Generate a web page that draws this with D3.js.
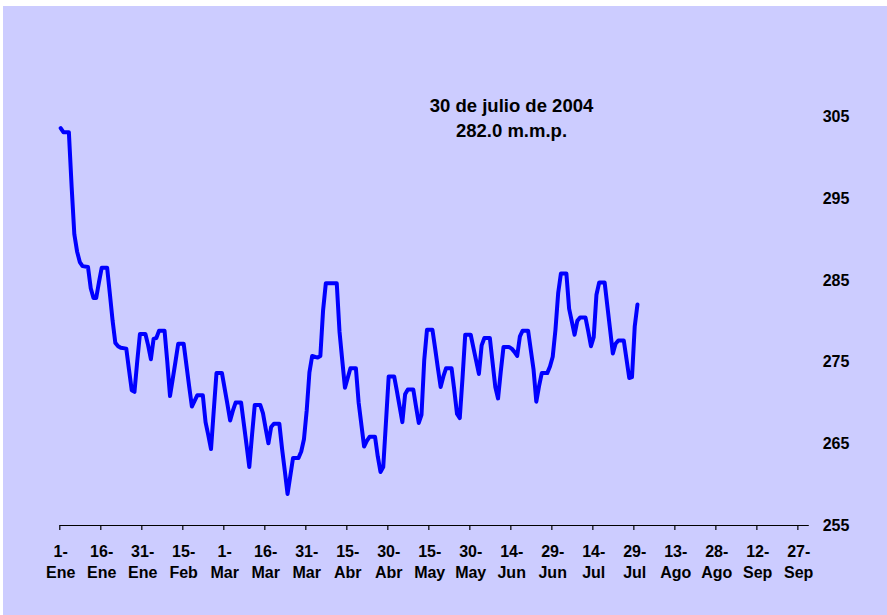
<!DOCTYPE html>
<html><head><meta charset="utf-8">
<script src="https://cdn.jsdelivr.net/npm/d3@7"></script>
<style>
html,body{margin:0;padding:0;background:#ffffff;}
svg{display:block;}
text{font-family:Arial,"Liberation Sans",sans-serif;font-weight:bold;fill:#000;}
</style></head><body>
<svg id="chart" width="887" height="615"></svg>
<script>
// ---- data ----
const startDate = "2004-01-01";
const endDate = "2004-10-01";
// day offset from 1-Ene-2004
const dayOffsets = [0,1,3,4,5,6,7,8,10,11,12,13,14,15,17,18,19,20,21,22,24,25,26,27,28,29,31,32,33,34,35,36,38,39,40,41,42,43,45,46,47,48,49,50,52,53,54,55,56,57,59,60,61,62,63,64,66,67,68,69,70,71,73,74,75,76,77,78,80,81,82,83,84,85,87,88,89,90,91,92,94,95,96,97,101,102,103,104,105,106,108,109,110,111,112,113,115,116,117,118,119,120,122,123,124,125,126,127,129,130,131,132,133,134,136,137,138,139,140,141,143,144,145,146,147,148,150,151,152,153,154,155,157,158,159,160,161,162,164,165,166,167,168,169,171,172,173,174,175,176,178,179,180,181,182,183,185,186,187,188,189,190,192,193,194,195,196,197,199,200,201,202,203,204,206,207,208,209,210,211];
const values = [303.6,303.1,303.1,296.5,290.6,288.5,287.2,286.7,286.6,284.0,282.8,282.8,284.7,286.5,286.5,283.3,280.0,277.3,276.9,276.7,276.6,274.0,271.5,271.3,275.0,278.4,278.4,277.0,275.3,277.8,277.9,278.8,278.8,275.0,270.8,272.9,275.0,277.2,277.2,274.6,272.0,269.5,270.2,270.9,270.9,267.6,266.0,264.3,269.0,273.6,273.6,271.7,269.8,267.8,269.0,270.0,270.0,267.4,264.8,262.1,266.0,269.7,269.7,268.7,266.8,265.0,267.0,267.4,267.4,264.3,261.6,258.8,261.0,263.2,263.2,264.0,265.5,269.0,273.7,275.7,275.5,275.7,281.3,284.6,284.6,278.7,275.2,271.8,273.0,274.2,274.2,270.0,267.3,264.6,265.3,265.8,265.8,263.4,261.5,262.1,267.6,273.2,273.2,271.4,269.5,267.6,271.0,271.6,271.6,269.5,267.5,268.5,275.2,278.9,278.9,276.6,274.2,271.9,273.2,274.2,274.2,271.5,268.6,268.1,273.0,278.3,278.3,276.7,275.1,273.5,277.0,277.9,277.9,274.9,271.9,270.5,273.8,276.8,276.8,276.6,276.2,275.7,278.1,278.8,278.8,276.4,274.0,270.1,272.0,273.6,273.6,274.4,275.6,278.9,283.4,285.8,285.8,281.5,279.9,278.3,280.0,280.4,280.4,278.7,276.9,278.0,283.2,284.7,284.7,281.8,278.9,276.0,277.2,277.6,277.6,275.3,273.0,273.1,279.3,282.0];
const xTickDays = [0,15,30,45,60,75,90,105,120,135,150,165,180,195,210,225,240,255,270];
const xTickLabels = ["1-Ene","16-Ene","31-Ene","15-Feb","1-Mar","16-Mar","31-Mar","15-Abr","30-Abr","15-May","30-May","14-Jun","29-Jun","14-Jul","29-Jul","13-Ago","28-Ago","12-Sep","27-Sep"];
const yTicks = [255,265,275,285,295,305];
const annotation = ["30 de julio de 2004","282.0 m.m.p."];

// ---- drawing ----
const svg = d3.select("#chart");
const W = 887, H = 615;
svg.append("rect").attr("x",3).attr("y",6).attr("width",W-3).attr("height",H-6).attr("fill","#CCCCFF");

const parse = d3.utcParse("%Y-%m-%d");
const t0 = parse(startDate), t1 = parse(endDate);
const x = d3.scaleUtc().domain([t0,t1]).range([59.3,808.3]);
const y = d3.scaleLinear().domain([255,305]).range([525,116.7]);
const mid = d => d3.utcHour.offset(d3.utcDay.offset(t0,d),12);

// x axis
const tickDates = xTickDays.map(d=>d3.utcDay.offset(t0,d));
const ax = svg.append("g").attr("transform","translate(0,525)")
  .call(d3.axisBottom(x).tickValues(tickDates).tickSize(5).tickSizeOuter(0).tickFormat(""));
ax.select(".domain").attr("stroke","#000").attr("stroke-width",1.2);
ax.selectAll(".tick line").attr("stroke","#000").attr("stroke-width",1.2);

const lab = svg.append("g").selectAll("text").data(xTickDays).join("text")
  .attr("text-anchor","middle").attr("font-size",16);
lab.each(function(d,i){
  const parts = xTickLabels[i].split("-");
  const t = d3.select(this);
  const cx = x(mid(d));
  t.append("tspan").attr("x",cx).attr("y",556.5).text(parts[0]+"-");
  t.append("tspan").attr("x",cx).attr("y",578.3).text(parts[1]);
});

// y labels (right side)
svg.append("g").selectAll("text").data(yTicks).join("text")
  .attr("x",836).attr("y",d=>y(d)).attr("dy","0.35em")
  .attr("text-anchor","middle").attr("font-size",16).text(d=>d);

// line
const pts = dayOffsets.map((d,i)=>({t:mid(d), v:values[i]}));
svg.append("path").datum(pts)
  .attr("fill","none").attr("stroke","#0000FF").attr("stroke-width",4)
  .attr("stroke-linejoin","round").attr("stroke-linecap","round")
  .attr("d", d3.line().x(p=>x(p.t)).y(p=>y(p.v)));

// annotation
svg.append("g").selectAll("text").data(annotation).join("text")
  .attr("x",511.5).attr("y",(d,i)=>111.5+i*25).attr("text-anchor","middle")
  .attr("font-size",18.5).text(d=>d);
</script>
</body></html>
